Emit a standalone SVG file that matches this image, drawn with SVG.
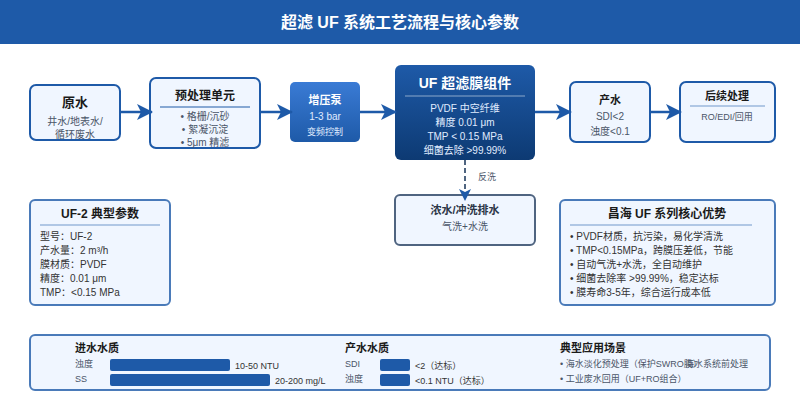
<svg xmlns="http://www.w3.org/2000/svg" width="800" height="400" viewBox="0 0 800 400">
<defs>
<linearGradient id="pump" x1="0" y1="0" x2="0" y2="1"><stop offset="0" stop-color="#3a7bd5"/><stop offset="1" stop-color="#1e5aa8"/></linearGradient>
<linearGradient id="uf" x1="0" y1="0" x2="0" y2="1"><stop offset="0" stop-color="#1e5aa8"/><stop offset="1" stop-color="#0d3a73"/></linearGradient>
<marker id="arr" viewBox="0 0 16 16" markerWidth="16" markerHeight="16" refX="15" refY="8" orient="auto" markerUnits="userSpaceOnUse"><path d="M0 0L16 8L0 16L4 8Z" fill="#1e5aa8"/></marker>
<marker id="arr2" viewBox="0 0 12 12" markerWidth="12" markerHeight="12" refX="11" refY="6" orient="auto" markerUnits="userSpaceOnUse"><path d="M0 0L12 6L0 12L3 6Z" fill="#1e5aa8"/></marker>
</defs>
<style>
text{font-family:"Liberation Sans","Noto Sans CJK SC",sans-serif;text-anchor:middle}
.box{fill:#f0f6ff;stroke:#1e5aa8;stroke-width:2}
.panel{fill:#f0f6ff;stroke:#1e5aa8;stroke-width:2;stroke-opacity:.8}
.t{fill:#1a1a1a;font-weight:bold}
.s{fill:#4a5568}
.w{fill:#fff}
.l{text-anchor:start}
.c{fill:#333;font-size:10px}
.f{fill:none;stroke:#1e5aa8;stroke-width:2.5}
.bar{fill:#1e5aa8}
.q{fill:#4a5568;font-size:9px}
.v{fill:#333;font-size:9px}
.h{fill:#1a1a1a;font-size:11px;font-weight:bold}
</style>
<rect width="800" height="44" fill="#1e5aa8"/>
<text x="400" y="28" font-size="16" font-weight="bold" fill="#fff">超滤 UF 系统工艺流程与核心参数</text>
<g id="raw"><rect class="box" x="30" y="85" width="90" height="55" rx="6"/>
<text x="75" y="107" font-size="13" class="t">原水</text>
<text x="75" y="125" font-size="10" class="s">井水/地表水/</text>
<text x="75" y="138" font-size="10" class="s">循环废水</text></g>
<g id="pre"><rect class="box" x="150" y="78" width="110" height="70" rx="6"/>
<text x="205" y="100" font-size="12" class="t">预处理单元</text>
<path d="M160 107H250" stroke="#1e5aa8" stroke-opacity=".5" stroke-width="2"/>
<text x="205" y="120" font-size="10" class="s">• 格栅/沉砂</text>
<text x="205" y="133" font-size="10" class="s">• 絮凝沉淀</text>
<text x="205" y="146" font-size="10" class="s">• 5μm 精滤</text></g>
<g id="pump-node"><rect x="290" y="82" width="70" height="60" rx="5" fill="url(#pump)"/>
<text x="325" y="104" font-size="11" font-weight="bold" class="w">增压泵</text>
<text x="325" y="120" font-size="10" fill="#e0ecff">1-3 bar</text>
<text x="325" y="135" font-size="9" fill="#e0ecff">变频控制</text></g>
<g id="uf-node"><rect x="395" y="65" width="140" height="95" rx="6" fill="url(#uf)"/>
<text x="465" y="88" font-size="14" font-weight="bold" class="w">UF 超滤膜组件</text>
<path d="M405 96H525" stroke="#fff" stroke-opacity=".25" stroke-width="2"/>
<text x="465" y="112" font-size="10" fill="#e0ecff">PVDF 中空纤维</text>
<text x="465" y="126" font-size="10" fill="#e0ecff">精度 0.01 μm</text>
<text x="465" y="140" font-size="10" fill="#e0ecff">TMP &lt; 0.15 MPa</text>
<text x="465" y="154" font-size="10" fill="#e0ecff">细菌去除 &gt;99.99%</text></g>
<g id="product"><rect class="box" x="570" y="82" width="80" height="60" rx="6"/>
<text x="610" y="104" font-size="11" class="t">产水</text>
<text x="610" y="120" font-size="10" class="s">SDI&lt;2</text>
<text x="610" y="135" font-size="10" class="s">浊度&lt;0.1</text></g>
<g id="post"><rect class="box" x="680" y="82" width="95" height="60" rx="6"/>
<text x="727" y="100" font-size="11" class="t">后续处理</text>
<path d="M690 106H765" stroke="#1e5aa8" stroke-opacity=".3" stroke-width="2"/>
<text x="727" y="120" font-size="9" class="s">RO/EDI/回用</text></g>
<g id="drain"><rect x="395" y="195" width="140" height="50" rx="5" fill="#f0f6ff" stroke="#4f6480" stroke-width="2"/>
<text x="465" y="214" font-size="11" font-weight="bold" fill="#2d3748">浓水/冲洗排水</text>
<text x="465" y="230" font-size="10" class="s">气洗+水洗</text></g>
<g id="params"><rect class="panel" x="30" y="200" width="140" height="105" rx="5"/>
<text x="100" y="218" font-size="12" class="t">UF-2 典型参数</text>
<path d="M40 225H160" stroke="#1e5aa8" stroke-opacity=".3" stroke-width="2"/>
<text class="l c" x="40" y="240">型号：UF-2</text>
<text class="l c" x="40" y="254">产水量：2 m³/h</text>
<text class="l c" x="40" y="268">膜材质：PVDF</text>
<text class="l c" x="40" y="282">精度：0.01 μm</text>
<text class="l c" x="40" y="296">TMP：&lt;0.15 MPa</text></g>
<g id="adv"><rect class="panel" x="560" y="200" width="215" height="105" rx="5"/>
<text x="667" y="218" font-size="12" class="t">昌海 UF 系列核心优势</text>
<path d="M570 225H752" stroke="#1e5aa8" stroke-opacity=".3" stroke-width="2"/>
<text class="l c" x="570" y="240">• PVDF材质，抗污染，易化学清洗</text>
<text class="l c" x="570" y="254">• TMP&lt;0.15MPa，跨膜压差低，节能</text>
<text class="l c" x="570" y="268">• 自动气洗+水洗，全自动维护</text>
<text class="l c" x="570" y="282">• 细菌去除率 &gt;99.99%，稳定达标</text>
<text class="l c" x="570" y="296">• 膜寿命3-5年，综合运行成本低</text></g>
<g id="quality"><rect class="panel" x="30" y="335" width="740" height="55" rx="5"/>
<text class="h l" x="75" y="352">进水水质</text>
<text class="q l" x="75" y="367">浊度</text>
<rect class="bar" x="110" y="359" width="120" height="12" rx="2"/>
<text class="v l" x="235" y="369">10-50 NTU</text>
<text class="q l" x="75" y="382">SS</text>
<rect class="bar" x="110" y="374" width="160" height="12" rx="2"/>
<text class="v l" x="275" y="384">20-200 mg/L</text>
<text class="h l" x="345" y="352">产水水质</text>
<text class="q l" x="345" y="367">SDI</text>
<rect class="bar" x="380" y="359" width="30" height="12" rx="2"/>
<text class="v l" x="415" y="369">&lt;2（达标）</text>
<text class="q l" x="345" y="382">浊度</text>
<rect class="bar" x="380" y="374" width="30" height="12" rx="2"/>
<text class="v l" x="415" y="384">&lt;0.1 NTU（达标）</text>
<text class="h l" x="560" y="352">典型应用场景</text>
<text class="q l" x="560" y="367">• 海水淡化预处理（保护SWRO膜）</text>
<text class="q l" x="685" y="367">海水系统前处理</text>
<text class="q l" x="560" y="382">• 工业废水回用（UF+RO组合）</text></g>
<g id="connectors">
<path class="f" d="M120 112H152" marker-end="url(#arr)"/>
<path class="f" d="M260 112H292" marker-end="url(#arr)"/>
<path class="f" d="M360 112H396" marker-end="url(#arr)"/>
<path class="f" d="M535 112H571" marker-end="url(#arr)"/>
<path class="f" d="M650 112H681" marker-end="url(#arr)"/>
<path d="M465 160V200" fill="none" stroke="#4f6480" stroke-width="2" stroke-dasharray="5 3" marker-end="url(#arr2)"/>
<text x="487" y="180" font-size="9" class="s">反洗</text>
</g>
</svg>
